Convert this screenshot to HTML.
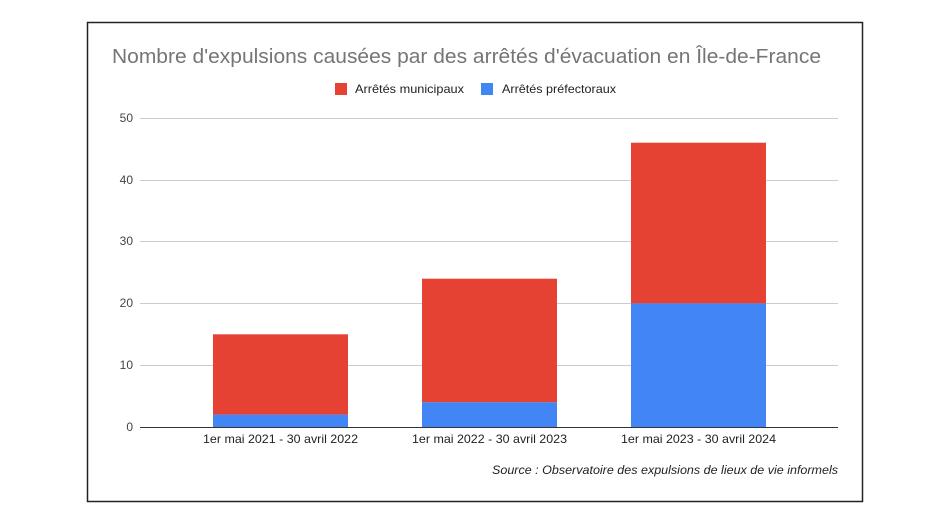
<!DOCTYPE html>
<html><head><meta charset="utf-8"><style>
html,body{margin:0;padding:0;background:#fff;}
svg{display:block;font-family:"Liberation Sans",Arial,sans-serif;}
</style></head><body>
<svg width="945" height="523" viewBox="0 0 945 523">
<rect width="945" height="523" fill="#fff"/>
<rect x="87.5" y="22.5" width="775" height="479" fill="#fff" stroke="#222" stroke-width="1.5"/>
<text x="112" y="63" font-size="20.5" fill="#757575" textLength="709" lengthAdjust="spacingAndGlyphs">Nombre d'expulsions causées par des arrêtés d'évacuation en Île-de-France</text>
<rect x="335" y="83" width="12" height="12" fill="#e64233"/>
<text x="355" y="93" font-size="12" fill="#222" textLength="109" lengthAdjust="spacingAndGlyphs">Arrêtés municipaux</text>
<rect x="481" y="83" width="12" height="12" fill="#4285f4"/>
<text x="502" y="93" font-size="12" fill="#222" textLength="114" lengthAdjust="spacingAndGlyphs">Arrêtés préfectoraux</text>
<g stroke="#cccccc" stroke-width="1">
<line x1="140" x2="838" y1="118.5" y2="118.5"/>
<line x1="140" x2="838" y1="180.5" y2="180.5"/>
<line x1="140" x2="838" y1="241.5" y2="241.5"/>
<line x1="140" x2="838" y1="303.5" y2="303.5"/>
<line x1="140" x2="838" y1="365.5" y2="365.5"/>
</g>
<g font-size="12" fill="#444" text-anchor="end">
<text x="133" y="122">50</text>
<text x="133" y="184">40</text>
<text x="133" y="245">30</text>
<text x="133" y="307">20</text>
<text x="133" y="369">10</text>
<text x="133" y="431">0</text>
</g>
<rect x="213" y="334.3" width="135" height="80.3" fill="#e64233"/>
<rect x="213" y="414.6" width="135" height="12.4" fill="#4285f4"/>
<rect x="422" y="278.7" width="135" height="123.6" fill="#e64233"/>
<rect x="422" y="402.3" width="135" height="24.7" fill="#4285f4"/>
<rect x="631" y="142.7" width="135" height="160.7" fill="#e64233"/>
<rect x="631" y="303.4" width="135" height="123.6" fill="#4285f4"/>
<line x1="140" x2="838" y1="427.5" y2="427.5" stroke="#333" stroke-width="1"/>
<g font-size="12" fill="#222">
<text x="203" y="443" textLength="155" lengthAdjust="spacingAndGlyphs">1er mai 2021 - 30 avril 2022</text>
<text x="412" y="443" textLength="155" lengthAdjust="spacingAndGlyphs">1er mai 2022 - 30 avril 2023</text>
<text x="621" y="443" textLength="155" lengthAdjust="spacingAndGlyphs">1er mai 2023 - 30 avril 2024</text>
</g>
<text x="492" y="474" font-size="12" font-style="italic" fill="#222" textLength="346" lengthAdjust="spacingAndGlyphs">Source : Observatoire des expulsions de lieux de vie informels</text>
</svg>
</body></html>
